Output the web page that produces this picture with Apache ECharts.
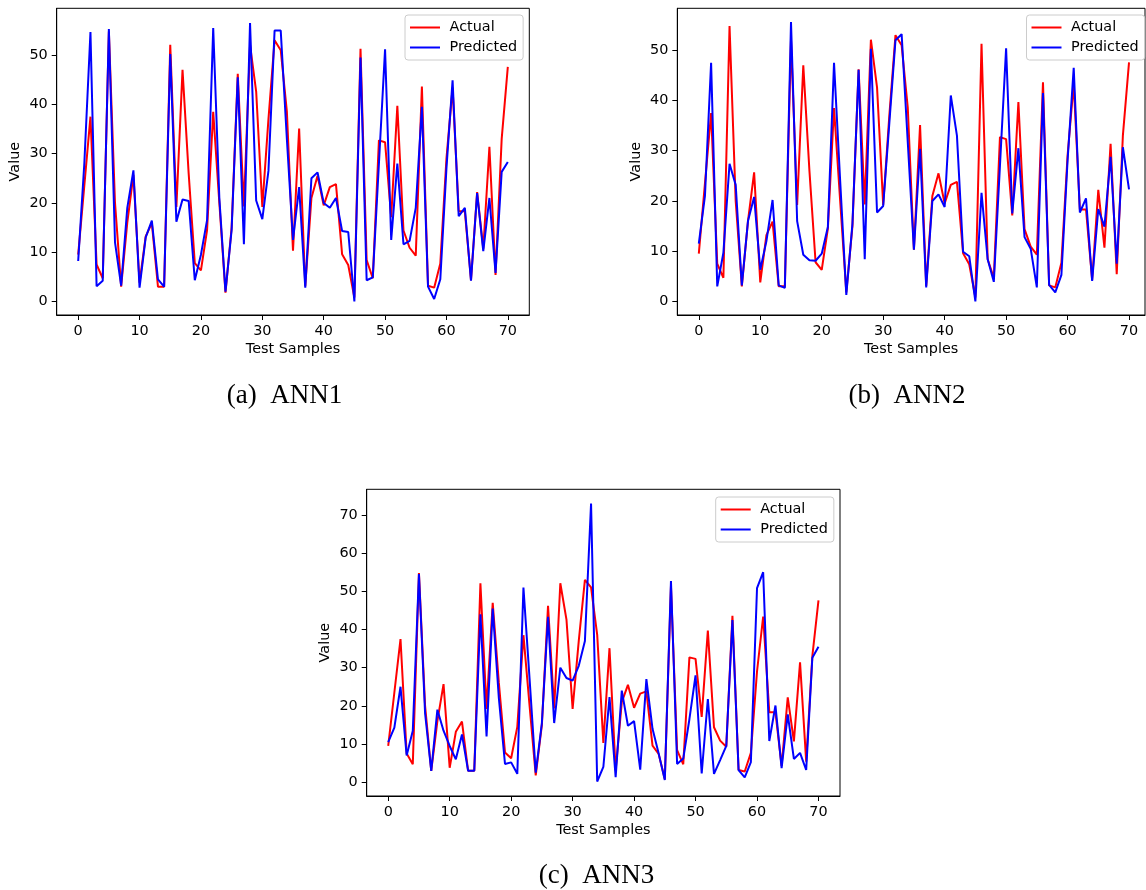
<!DOCTYPE html>
<html><head><meta charset="utf-8">
<script src="https://cdn.jsdelivr.net/npm/echarts@6/dist/echarts.min.js"></script>
<style>html,body{margin:0;padding:0;background:#fff}#c{width:1146px;height:890px}</style>
</head><body><div id="c"></div>
<script>
const samples = [0,1,2,3,4,5,6,7,8,9,10,11,12,13,14,15,16,17,18,19,20,21,22,23,24,25,26,27,28,29,30,31,32,33,34,35,36,37,38,39,40,41,42,43,44,45,46,47,48,49,50,51,52,53,54,55,56,57,58,59,60,61,62,63,64,65,66,67,68,69,70];
const actual = [9.5,23.5,37.5,7.5,4.7,54.8,20,3,16,25.7,3.8,13.2,15.9,3.0,3.0,52.1,19.2,47.0,26,7.8,6.3,14.5,38.5,20,1.8,15,46.2,19.3,52.1,42.6,19.2,37,53.0,51,38.6,10.3,35.1,3.1,21,25.5,19.5,23.2,23.8,9.6,7.4,0.8,51.3,8.4,4.7,32.7,32.3,17.1,39.7,14.4,10.9,9.3,43.6,3.2,2.8,7.7,29,43.4,18.3,18.3,4.3,22.2,10.7,31.4,5.4,33,47.6];
const predANN1 = [8.2,28,54.7,3.1,4.2,55.3,12,3.2,19,26.6,2.8,13,16.4,4.5,3.0,50.2,16.2,20.7,20.4,4.3,9.5,16.5,55.5,21,2.0,14.5,45.5,11.6,56.5,20.5,16.7,26.5,55,55,33,12.5,23.2,2.8,25,26.2,20,19,21,14.3,14.1,0,49.5,4.3,4.9,28,51.2,12.5,28,11.6,12.3,19,39.5,3,0.5,4.5,27,44.9,17.3,19,4.2,22,10.2,21,5.8,26.3,28.3];
const predANN2 = [11.5,21,47.5,3,9.7,27.4,23.2,3.2,16,20.8,6.3,12,20.2,3.2,2.7,55.6,16,9.3,8.2,8.1,9.5,14.8,47.5,24,1.3,15.5,46.1,8.4,50.3,17.7,19,35.5,52,53.2,31.7,10.3,30.4,2.8,20,21.3,18.8,41,33,9.9,9,0,21.6,8.4,3.9,27,50.4,17.5,30.5,12.8,10.5,2.8,41.5,3.3,1.8,5.3,28,46.5,17.7,20.5,4.1,18.4,14.9,28.8,7.5,30.7,22.3];
const predANN3 = [10.5,14.3,25,7,13.5,54.5,18,3,19,13.5,9.5,6,12.5,3,3,44,12,45.5,22,4.8,5.2,2.2,51,27,2.5,15.5,43.3,15.5,30,27.3,26.6,30.5,37,73,0.2,4,22.3,1.3,24,14.8,16,3.3,27,14,7.5,0.6,52.7,4.8,6.2,16.5,28,2.3,21.8,2.2,5.8,9.5,42.5,3.2,1.3,5.3,50.8,55,10.8,20.1,3.7,17.8,6.1,7.7,3.2,32.6,35.5];
const xTicks = [0,10,20,30,40,50,60,70];
const yTicksAB = [0,10,20,30,40,50];
const yTicksC = [0,10,20,30,40,50,60,70];
const captions = ['(a)  ANN1','(b)  ANN2','(c)  ANN3'];
const seriesNames = ['Actual','Predicted'];

const FONT = 'DejaVu Sans';
const FS = 14.4;
const grids = [
  {left:56.7, top:8.3, width:472.6, height:306.7},
  {left:677.3, top:8.3, width:467.7, height:306.7},
  {left:366.7, top:489.3, width:473.3, height:306.7}
];
const xMax = [73.5, 72.6, 73.5];
const yRange = [[-2.75,59.5],[-2.7,58.35],[-3.6,76.7]];
const yTicks = [yTicksAB, yTicksAB, yTicksC];
const preds = [predANN1, predANN2, predANN3];

function pairs(vals){ return samples.map((s,i)=>[s, vals[i]]); }

const option = {
  animation:false,
  backgroundColor:'#fff',
  grid: grids.map(g=>Object.assign({show:true, borderColor:'#000', borderWidth:1, backgroundColor:'transparent'}, g)),
  xAxis: grids.map((g,k)=>({
    type:'value', gridIndex:k, min:-3.5, max:xMax[k],
    axisLine:{show:true, onZero:false, lineStyle:{color:'#000', width:1}},
    axisTick:{show:true, inside:false, length:5, customValues:xTicks, lineStyle:{color:'#000'}},
    axisLabel:{show:true, customValues:xTicks, margin:9, color:'#000', fontSize:FS, fontFamily:FONT},
    splitLine:{show:false},
    name:'Test Samples', nameLocation:'middle', nameGap:27,
    nameTextStyle:{color:'#000', fontSize:FS, fontFamily:FONT}
  })),
  yAxis: grids.map((g,k)=>({
    type:'value', gridIndex:k, min:yRange[k][0], max:yRange[k][1],
    axisLine:{show:true, onZero:false, lineStyle:{color:'#000', width:1}},
    axisTick:{show:true, inside:false, length:5, customValues:yTicks[k], lineStyle:{color:'#000'}},
    axisLabel:{show:true, customValues:yTicks[k], margin:9, color:'#000', fontSize:FS, fontFamily:FONT},
    splitLine:{show:false},
    name:'Value', nameLocation:'middle', nameGap:34, nameRotate:90,
    nameTextStyle:{color:'#000', fontSize:FS, fontFamily:FONT}
  })),
  legend: [
    {left:405, top:15},
    {left:1026.5, top:15},
    {left:715.7, top:497}
  ].map(p=>Object.assign({
    orient:'vertical', data:seriesNames, selectedMode:false,
    icon:'rect', itemWidth:30, itemHeight:2, itemGap:5,
    padding:[5,6,5,5],
    formatter: n => ' ' + n,
    backgroundColor:'rgba(255,255,255,0.8)', borderColor:'#cccccc', borderWidth:1, borderRadius:3,
    textStyle:{color:'#000', fontSize:FS, fontFamily:FONT, lineHeight:15}
  }, p)),
  series: [],
  graphic: [
    {x:284.5, y:396}, {x:907, y:396}, {x:596.5, y:876}
  ].map((p,k)=>({
    type:'text', x:p.x, y:p.y,
    style:{text:captions[k], font:'27px "Liberation Serif"', fill:'#000', textAlign:'center', textVerticalAlign:'middle', align:'center', verticalAlign:'middle'}
  }))
};
for (let k=0;k<3;k++){
  option.series.push({
    name:seriesNames[0], type:'line', xAxisIndex:k, yAxisIndex:k, data:pairs(actual),
    showSymbol:false, symbol:'none', color:'#ff0000', lineStyle:{color:'#ff0000', width:2}, z:2
  });
  option.series.push({
    name:seriesNames[1], type:'line', xAxisIndex:k, yAxisIndex:k, data:pairs(preds[k]),
    showSymbol:false, symbol:'none', color:'#0000ff', lineStyle:{color:'#0000ff', width:2}, z:3
  });
}
const chart = echarts.init(document.getElementById('c'), null, {renderer:'canvas'});
chart.setOption(option);
</script></body></html>
